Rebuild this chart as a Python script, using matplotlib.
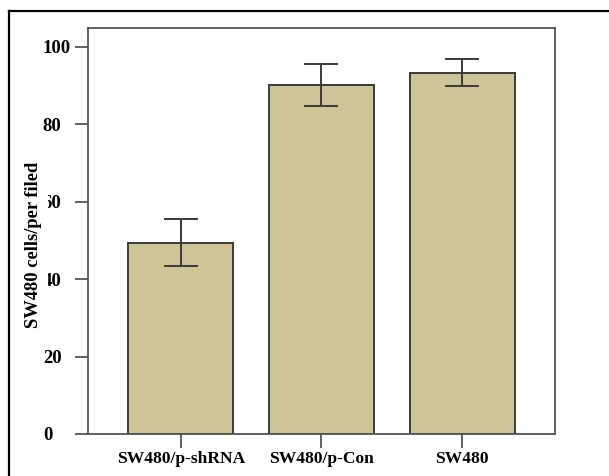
import matplotlib
matplotlib.use("Agg")
import matplotlib.pyplot as plt
from matplotlib.lines import Line2D
from matplotlib.patches import Rectangle

# values
groups = ["SW480/p-shRNA", "SW480/p-Con", "SW480"]
means = [49.4, 90.2, 93.4]
err_low = [6.0, 5.4, 3.5]
err_high = [6.1, 5.5, 3.5]
yticks = [0, 20, 40, 60, 80, 100]
ylabel = "SW480 cells/per filed"

BAR_COLOR = "#cdc598"
EDGE = "#3a3a3a"
AXIS_GRAY = "#555555"

plt.rcParams["font.family"] = ["Liberation Serif", "DejaVu Serif"]
plt.rcParams["font.weight"] = "bold"

fig = plt.figure(figsize=(6.09, 4.76), dpi=100)
W, H = 609, 476
ax = fig.add_axes([88 / W, 1 - 434 / H, (555 - 88) / W, (434 - 28) / H])

x = list(range(len(groups)))
ax.bar(x, means, width=0.745, color=BAR_COLOR, edgecolor=EDGE, linewidth=1.4, zorder=2)
ax.errorbar(x, means, yerr=[err_low, err_high], fmt="none", ecolor=EDGE,
            elinewidth=1.4, capsize=12.5, capthick=1.4, zorder=3)

ax.set_xlim(-0.66, 2.66)
ax.set_ylim(0, 104.9)
ax.set_yticks(yticks)
# y tick labels are left-aligned in the reference
ax.set_yticklabels([str(v) for v in yticks], fontsize=13.5, fontweight="bold", ha="left")
ax.set_xticks(x)
ax.set_xticklabels(groups, fontsize=12.6, fontweight="bold")
ax.tick_params(axis="y", length=9.5, width=1.3, color=AXIS_GRAY, pad=23)
ax.tick_params(axis="x", length=10, width=1.3, color=AXIS_GRAY, pad=2.5)
for s in ax.spines.values():
    s.set_color(AXIS_GRAY)
    s.set_linewidth(1.3)

# the y label sits on a white box that hides part of the 60 / 40 labels
fig.add_artist(Rectangle((16 / W, 1 - 340 / H), (48 - 16) / W, (340 - 152) / H,
                         transform=fig.transFigure, facecolor="white",
                         edgecolor="none", zorder=5))
fig.text(34 / W, 1 - 245 / H, ylabel, rotation=90, ha="center", va="center",
         fontsize=13.3, fontweight="bold", zorder=6)

# outer frame around the figure (left and top edges, rest cropped)
fig.add_artist(Line2D([9 / W, 9 / W], [0, 1 - 11 / H], transform=fig.transFigure,
                      color="black", linewidth=1.6, zorder=7))
fig.add_artist(Line2D([9 / W, 1], [1 - 11 / H, 1 - 11 / H], transform=fig.transFigure,
                      color="black", linewidth=1.6, zorder=7))

fig.savefig("out.png", dpi=100)
